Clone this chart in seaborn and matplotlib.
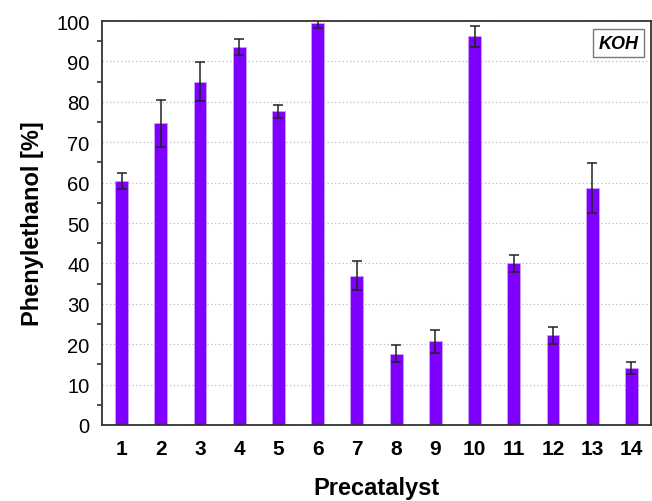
import numpy as np
import pandas as pd
import matplotlib
matplotlib.use("Agg")
import matplotlib.pyplot as plt
import seaborn as sns
from matplotlib.ticker import MultipleLocator

# Data
precatalysts = ['1', '2', '3', '4', '5', '6', '7', '8', '9', '10', '11', '12', '13', '14']
yield_pct = [60.4, 74.7, 85.0, 93.5, 77.7, 99.5, 37.0, 17.6, 20.7, 96.2, 40.0, 22.2, 58.6, 14.1]
yield_err = [2.0, 5.8, 4.9, 2.0, 1.6, 1.2, 3.6, 2.1, 2.9, 2.6, 2.0, 2.1, 6.2, 1.5]

sns.set_style("white")
plt.rcParams['font.family'] = ['Liberation Sans', 'DejaVu Sans']
plt.rcParams['text.color'] = 'black'
plt.rcParams['axes.labelcolor'] = 'black'
plt.rcParams['xtick.labelcolor'] = 'black'
plt.rcParams['ytick.labelcolor'] = 'black'

df = pd.DataFrame({'Precatalyst': precatalysts, 'Yield': yield_pct, 'Err': yield_err})

fig = plt.figure(figsize=(6.52, 5.02), dpi=100)
ax = fig.add_axes([0.1564, 0.1514, 0.8421, 0.8046])

sns.barplot(data=df, x='Precatalyst', y='Yield', color='#8000FF', width=0.33,
            edgecolor='#C9A0FF', linewidth=0.6, saturation=1, errorbar=None, ax=ax, zorder=2)
ax.errorbar(np.arange(len(df)), df['Yield'], yerr=df['Err'], fmt='none',
            ecolor='#222222', elinewidth=1.1, capsize=3.5, capthick=1.1, zorder=3)

ax.set_xlim(-0.5, len(df) - 0.5)
ax.set_ylim(0, 100)
ax.yaxis.set_major_locator(MultipleLocator(10))
ax.yaxis.set_minor_locator(MultipleLocator(5))
ax.grid(axis='y', which='major', color='#BBBBBB', linestyle=(0, (1, 2)), linewidth=0.9, zorder=0)
ax.set_axisbelow(True)

for s in ax.spines.values():
    s.set_visible(True)
    s.set_color('#333333')
    s.set_linewidth(1.3)

ax.tick_params(axis='both', which='major', direction='out', length=6, width=1.2, color='#333333')
ax.tick_params(axis='y', which='minor', direction='out', length=3.5, width=1.2, color='#333333', left=True)
ax.tick_params(axis='y', labelsize=14.5, pad=3)
ax.tick_params(axis='x', labelsize=15, pad=4)
for lab in ax.get_xticklabels():
    lab.set_fontweight('bold')

ax.set_xlabel('Precatalyst', fontsize=17, fontweight='bold', labelpad=13)
ax.set_ylabel('Phenylethanol [%]', fontsize=17, fontweight='bold', labelpad=9)

ax.text(0.977, 0.966, 'KOH', transform=ax.transAxes, ha='right', va='top',
        fontsize=13, fontweight='bold', fontstyle='italic',
        bbox=dict(boxstyle='square,pad=0.3', facecolor='white', edgecolor='#777777', linewidth=1))

fig.savefig('out.png', dpi=100)
